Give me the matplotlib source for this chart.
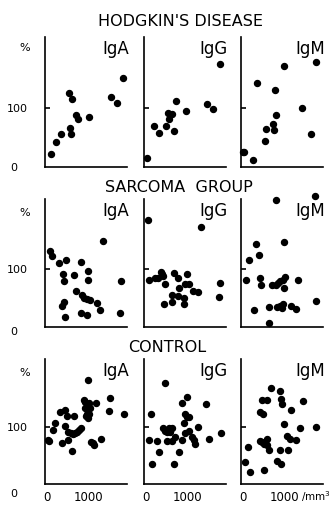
import matplotlib
matplotlib.use('Agg')
import matplotlib.pyplot as plt
from matplotlib.transforms import blended_transform_factory

plt.rcParams['font.family'] = ['DejaVu Sans']

groups = ["HODGKIN'S DISEASE", 'SARCOMA  GROUP', 'CONTROL']
classes = ['IgA', 'IgG', 'IgM']

# x: lymphocytes /mm3, y: %
hd_iga_x = [95, 214, 340, 548, 579, 540, 595, 698, 745, 1017, 1524, 1667, 1810]
hd_iga_y = [22, 42, 56, 66, 56, 125, 115, 88, 81, 85, 118, 108, 150]
hd_igg_x = [31, 190, 326, 476, 524, 636, 548, 683, 730, 952, 1452, 1602, 1769]
hd_igg_y = [16, 70, 58, 70, 91, 90, 81, 61, 112, 95, 107, 98, 174]
hd_igm_x = [10, 24, 255, 350, 531, 564, 721, 738, 793, 769, 993, 1421, 1619, 1738]
hd_igm_y = [26, 26, 12, 142, 44, 64, 72, 62, 88, 131, 171, 100, 56, 177]

sa_iga_x = [79, 136, 286, 452, 398, 412, 826, 643, 983, 976, 1350, 698, 833,
            888, 952, 1031, 1190, 1269, 421, 364, 445, 810, 952, 1769, 1755]
sa_iga_y = [131, 121, 109, 114, 91, 79, 112, 89, 96, 81, 147, 61, 55,
            50, 47, 45, 40, 29, 43, 36, 17, 23, 19, 78, 24]
sa_igg_x = [55, 88, 221, 286, 357, 388, 421, 452, 683, 779, 976, 929, 1031,
            786, 636, 619, 436, 779, 912, 912, 1126, 1245, 1762, 1738, 1326]
sa_igg_y = [183, 81, 83, 84, 94, 91, 87, 73, 93, 83, 91, 73, 73,
            66, 55, 43, 38, 52, 50, 39, 61, 60, 75, 51, 172]
sa_igm_x = [83, 148, 329, 393, 424, 433, 274, 624, 624, 805, 981, 688, 783, 845,
            900, 957, 1005, 981, 1329, 829, 900, 940, 957, 1155, 1281, 1750, 1719]
sa_igm_y = [81, 114, 142, 124, 83, 71, 28, 33, 6, 219, 146, 71, 72, 75,
            78, 81, 85, 66, 80, 33, 35, 32, 39, 35, 31, 44, 226]

co_iga_x = [24, 48, 160, 198, 310, 436, 493, 660, 445, 374, 507, 507, 571,
            612, 636, 683, 714, 762, 810, 888, 912, 912, 952, 945, 983, 993,
            1017, 1031, 1007, 1174, 1064, 1126, 1112, 1286, 1500, 1476, 1840]
co_iga_y = [77, 75, 95, 108, 127, 131, 119, 120, 102, 72, 78, 92, 90,
            58, 88, 90, 92, 95, 98, 147, 144, 133, 124, 119, 116, 183,
            143, 134, 124, 142, 74, 69, 72, 80, 151, 129, 124]
co_igg_x = [71, 126, 160, 269, 317, 405, 469, 452, 507, 555, 517, 588, 619,
            626, 690, 683, 802, 874, 874, 936, 983, 945, 983, 1031, 921, 1031,
            1102, 1150, 1167, 1245, 1429, 1500, 1786]
co_igg_y = [78, 124, 35, 76, 56, 98, 177, 94, 92, 99, 76, 91, 99,
            76, 82, 35, 56, 142, 77, 89, 154, 124, 118, 118, 108, 94,
            83, 77, 71, 101, 140, 80, 89]
co_igm_x = [48, 136, 174, 421, 469, 517, 588, 636, 571, 517, 421, 493, 469, 571,
            674, 888, 905, 929, 1143, 983, 881, 1071, 1064, 1126, 1279, 1374,
            1445, 1738, 817, 921]
co_igm_y = [38, 66, 22, 76, 74, 70, 68, 60, 80, 25, 127, 124, 148, 148,
            169, 163, 149, 140, 131, 106, 59, 59, 84, 80, 78, 98,
            146, 100, 41, 36]

panels = [
    [(hd_iga_x, hd_iga_y), (hd_igg_x, hd_igg_y), (hd_igm_x, hd_igm_y)],
    [(sa_iga_x, sa_iga_y), (sa_igg_x, sa_igg_y), (sa_igm_x, sa_igm_y)],
    [(co_iga_x, co_iga_y), (co_igg_x, co_igg_y), (co_igm_x, co_igm_y)],
]

W, H = 332, 506
fig = plt.figure(figsize=(W / 100, H / 100), dpi=100)

col_left = [45, 144, 241]
panel_w = 82
rows = [(38, 168), (200, 327.5), (360, 485)]   # top, bottom in pixels
title_x = [181, 179, 167]
title_y = [22, 188, 348]
zero_y = [168, 332, 494]
pct_y = [48, 213, 373]


def px(x, y):
    # pixel position -> figure fraction
    return x / W, 1 - y / H


for r, (top, bot) in enumerate(rows):
    fig.text(*px(title_x[r], title_y[r]), groups[r], ha='center', va='center',
             fontsize=11.5)
    # y labels of the row
    y100 = bot - 100 / 220 * (bot - top)
    fig.text(*px(17.5, y100), '100', ha='center', va='center', fontsize=8)
    fig.text(*px(14, zero_y[r]), '0', ha='center', va='center', fontsize=8)
    fig.text(*px(25, pct_y[r]), '%', ha='center', va='center', fontsize=8)
    for c in range(3):
        ax = fig.add_axes([col_left[c] / W, 1 - bot / H, panel_w / W, (bot - top) / H])
        x, y = panels[r][c]
        ax.plot(x, y, 'o', color='black', markersize=4.3, clip_on=False)
        ax.set_xlim(-40, 1915)
        ax.set_ylim(0, 220)
        for s in ['top', 'right']:
            ax.spines[s].set_visible(False)
        for s in ['left', 'bottom']:
            ax.spines[s].set_linewidth(1.2)
        ax.set_yticks([100])
        ax.set_yticklabels([])
        ax.tick_params(axis='y', direction='in', length=3.5, width=1.2)
        ax.set_xticks([])
        ax.text(1.02, 0.985, classes[c], transform=ax.transAxes, ha='right', va='top',
                fontsize=12)
        if r == 2:
            tr = blended_transform_factory(ax.transData, ax.transAxes)
            ax.text(0, -0.1, '0', transform=tr, ha='center', va='center', fontsize=8.5)
            ax.text(1000, -0.1, '1000', transform=tr, ha='center', va='center',
                    fontsize=8.5)

fig.text(*px(331, 497), '/mm$^3$', ha='right', va='center', fontsize=7.5)

fig.savefig('out.png', dpi=100)
